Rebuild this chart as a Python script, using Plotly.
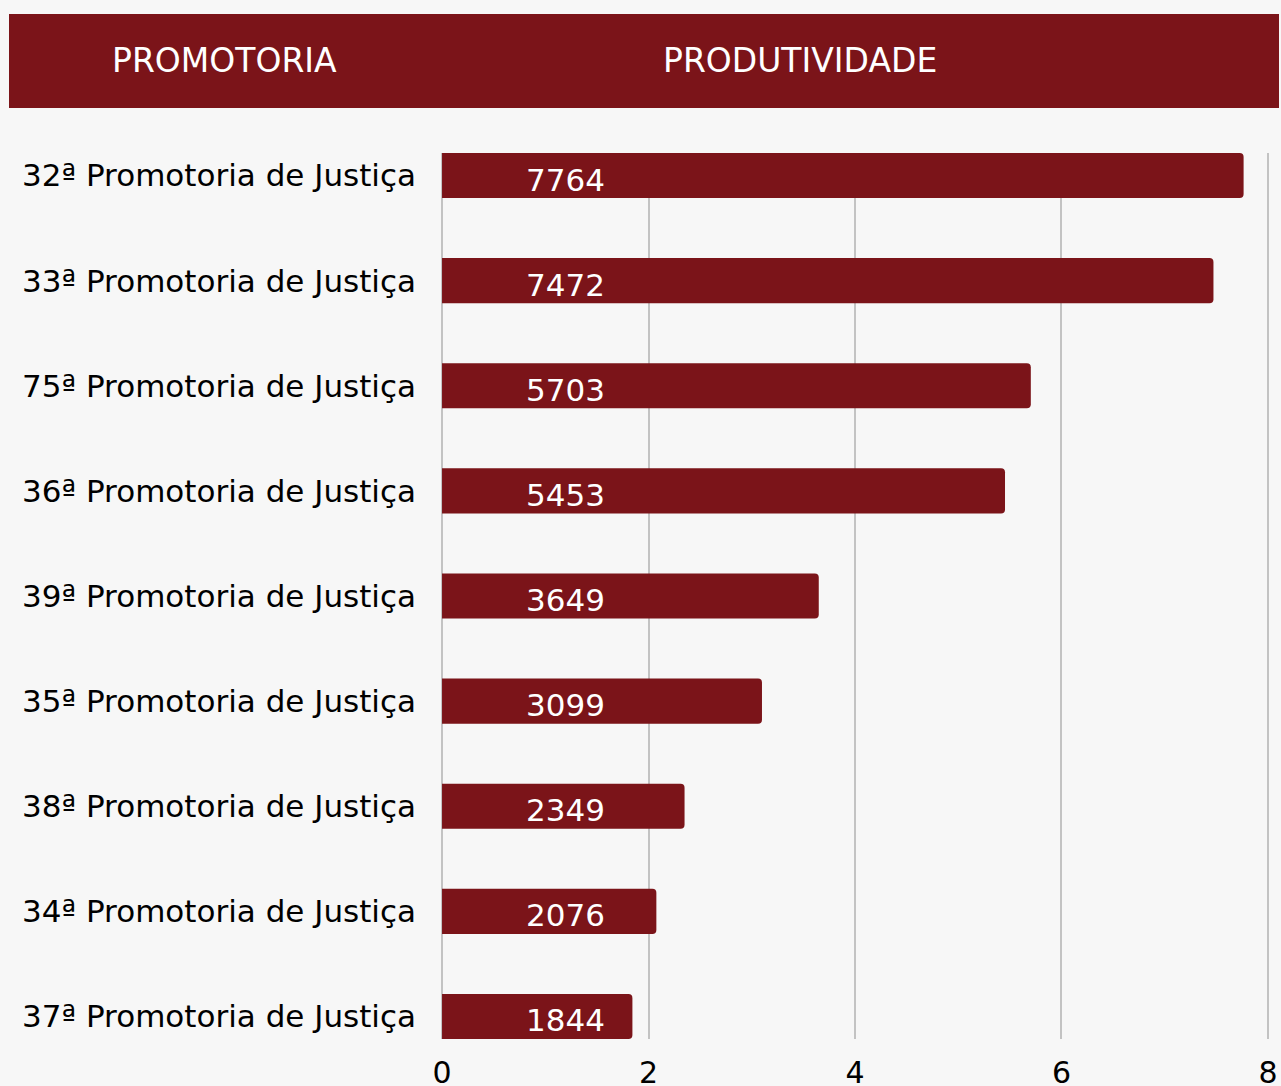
import plotly.graph_objects as go

categories = [
    "32ª Promotoria de Justiça",
    "33ª Promotoria de Justiça",
    "75ª Promotoria de Justiça",
    "36ª Promotoria de Justiça",
    "39ª Promotoria de Justiça",
    "35ª Promotoria de Justiça",
    "38ª Promotoria de Justiça",
    "34ª Promotoria de Justiça",
    "37ª Promotoria de Justiça",
]
produtividade = [7764, 7472, 5703, 5453, 3649, 3099, 2349, 2076, 1844]
x_ticks = [0, 2, 4, 6, 8]
header_labels = ["PROMOTORIA", "PRODUTIVIDADE"]

W, H = 1281, 1086
L, R, T, B = 441, 12, 153, 47
FONT = "DejaVu Sans"
RED = "#7B1419"
BG = "#F7F7F7"

pw = W - L - R
ph = H - T - B

def px_x(px):
    return (px - L) / pw

def px_y(py):
    return (H - B - py) / ph

values_k = [v / 1000 for v in produtividade]

fig = go.Figure()
fig.add_trace(go.Bar(
    x=values_k, y=categories, orientation="h",
    marker=dict(color=RED, line=dict(width=0), cornerradius=4),
    width=0.4286, hoverinfo="skip",
))

for cat, v in zip(categories, produtividade):
    fig.add_annotation(
        x=1.2, y=cat, xref="x", yref="y", text=str(v), showarrow=False,
        font=dict(family=FONT, size=31, color="white"),
        xanchor="center", yanchor="middle", yshift=-4,
    )

# header band
fig.add_shape(type="rect", xref="paper", yref="paper",
              x0=px_x(9), x1=px_x(1279), y0=px_y(108), y1=px_y(14),
              fillcolor=RED, line=dict(width=0), layer="below")
for txt, cx in zip(header_labels, [224, 800]):
    fig.add_annotation(x=px_x(cx), y=px_y(61), xref="paper", yref="paper",
                       text=txt, showarrow=False, xanchor="center", yanchor="middle",
                       font=dict(family=FONT, size=33, color="white"))

fig.update_layout(
    width=W, height=H,
    margin=dict(l=L, r=R, t=T, b=B, pad=0, autoexpand=False),
    paper_bgcolor=BG, plot_bgcolor=BG,
    showlegend=False,
    font=dict(family=FONT, color="black", size=30),
    xaxis=dict(range=[-0.01, 8.01], tickvals=x_ticks, ticktext=[str(t) for t in x_ticks],
               showgrid=True, gridcolor="#C3C3C3", gridwidth=2,
               zeroline=False, showline=False, ticks="", automargin=False,
               tickfont=dict(family=FONT, size=30, color="black"),
               ticklabelstandoff=13, fixedrange=True),
    yaxis=dict(categoryorder="array", categoryarray=categories,
               range=[8.2143, -0.2143], showgrid=False, zeroline=False,
               showline=False, ticks="", automargin=False,
               tickfont=dict(family=FONT, size=31, color="black"),
               ticklabelstandoff=24, fixedrange=True),
)

fig.write_html(
    "out.html",
    config={"displayModeBar": False},
    post_script="document.body.style.margin='0';document.documentElement.style.overflow='hidden';",
)
